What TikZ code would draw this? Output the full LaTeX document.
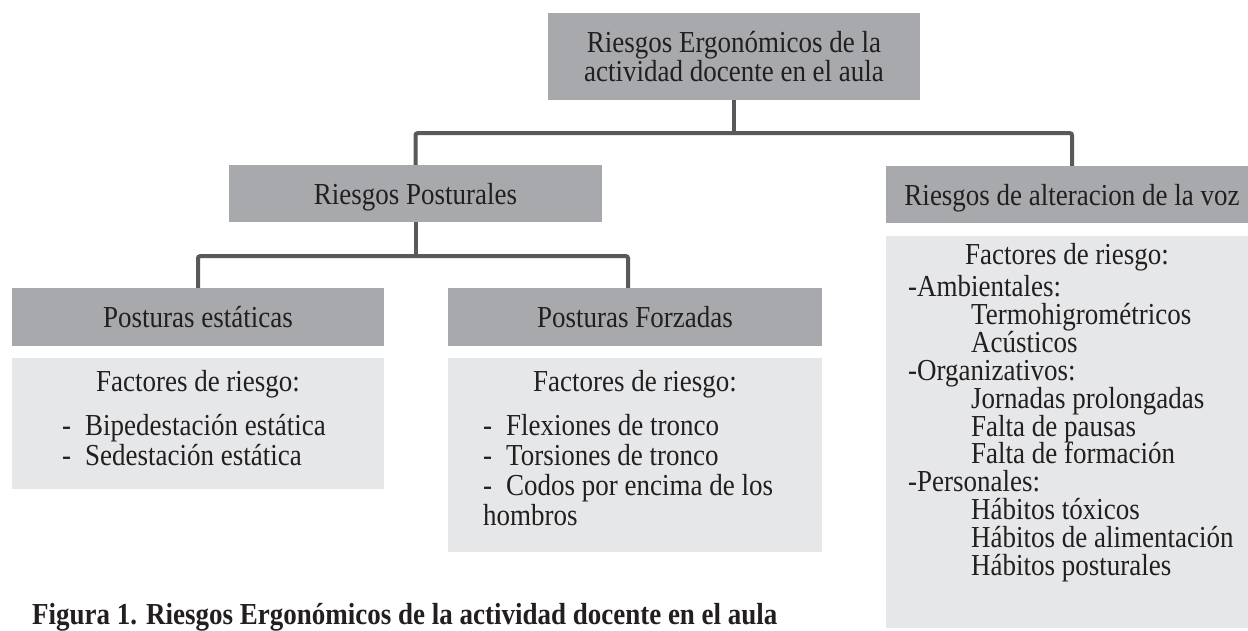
\documentclass[tikz,border=0pt]{standalone}
\usepackage{fontspec}
\setmainfont[FakeStretch=0.885]{Liberation Serif}
\usetikzlibrary{positioning}

\definecolor{boxgray}{HTML}{A7A9AC}
\definecolor{boxlight}{HTML}{E6E7E8}
\definecolor{linkgray}{HTML}{58595B}
\definecolor{ink}{HTML}{231F20}

\tikzset{
    titlebox/.style={fill=boxgray, text=ink, align=center, text depth=0pt,
        minimum width=373pt, minimum height=57pt},
    factbox/.style={fill=boxlight, anchor=north west},
    factline/.style={anchor=base west, text=ink},
    link/.style={draw=linkgray, line width=4pt, rounded corners=2pt},
}

\begin{document}
\begin{tikzpicture}[x=1pt, y=-1pt, inner sep=0pt,
        font=\fontsize{30.5}{32}\selectfont]
    \useasboundingbox (0,0) rectangle (1248,631);

    % cajas de titulo
    \node[titlebox, minimum width=372pt, minimum height=87pt] (top) at (734,56.5) {};
    \node[anchor=base, text=ink] (top1) at (734,53) {Riesgos Ergonómicos de la};
    \node[anchor=base, text=ink] (top2) at (734,82) {actividad docente en el aula};
    \node[titlebox] (post) at (415.5,193.5) {Riesgos Posturales};
    \node[titlebox, minimum width=372pt] (voz) at (1072,194.5) {Riesgos de alteracion de la voz};
    \node[titlebox, minimum width=372pt, minimum height=58pt] (est) at (198,317) {Posturas estáticas};
    \node[titlebox, minimum width=374pt, minimum height=58pt] (forz) at (635,317) {Posturas Forzadas};

    % conectores
    \draw[link] (top.south) -- ++(0,33) coordinate (j1);
    \draw[link] (post.north) |- (j1) -| (voz.north);
    \draw[link] (post.south) -- ++(0,34) coordinate (j2);
    \draw[link] (est.north) |- (j2) -| ([xshift=-7pt]forz.north);

    % factores de riesgo
    \node[factbox, minimum width=372pt, minimum height=131pt] (estf) at (12,358) {};
    \node[factbox, minimum width=374pt, minimum height=194pt] (forzf) at (448,358) {};
    \node[factbox, minimum width=372pt, minimum height=392pt] (vozf) at (886,236) {};

    \node[anchor=base, text=ink] (estt) at (198,391) {Factores de riesgo:};
    \node[anchor=base, text=ink] (forzt) at (635,391) {Factores de riesgo:};
    \node[anchor=base, text=ink] (vozt) at (1067,265) {Factores de riesgo:};

    \node[factline] (est1) at (62,435) {-\hspace{14pt}Bipedestación estática};
    \node[factline] (est2) at (62,465) {-\hspace{14pt}Sedestación estática};

    \node[factline] (forz1) at (483,435) {-\hspace{14pt}Flexiones de tronco};
    \node[factline] (forz2) at (483,465) {-\hspace{14pt}Torsiones de tronco};
    \node[factline] (forz3) at (483,495) {-\hspace{14pt}Codos por encima de los};
    \node[factline] (forz4) at (483,525) {hombros};

    \foreach \x/\txt [count=\i] in {908/-Ambientales:, 971/Termohigrométricos, 971/Acústicos,
            908/-Organizativos:, 971/Jornadas prolongadas, 971/Falta de pausas,
            971/Falta de formación, 908/-Personales:, 971/Hábitos tóxicos,
            971/Hábitos de alimentación, 971/Hábitos posturales}
        \node[factline] (voz\i) at (\x,{297+(\i-1)*27.8}) {\txt};

    % pie de figura
    \node[factline, font=\fontsize{30.5}{32}\selectfont\bfseries] (cap) at (32,624)
        {Figura 1. Riesgos Ergonómicos de la actividad docente en el aula};
\end{tikzpicture}
\end{document}
